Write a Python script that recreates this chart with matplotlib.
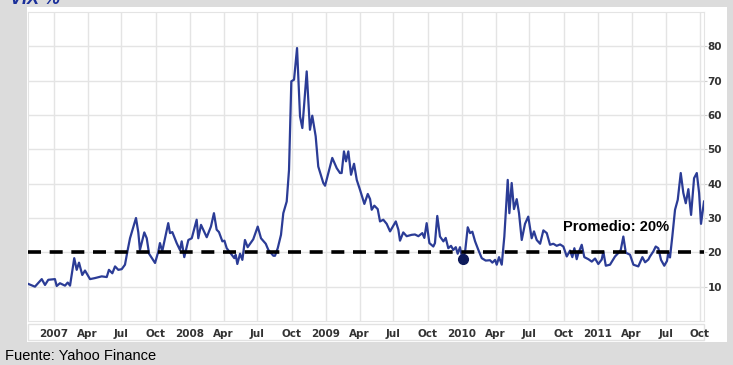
import matplotlib
matplotlib.use("Agg")
import matplotlib.pyplot as plt
from matplotlib.patches import Rectangle

# weekly-ish readings, time as decimal year
years = [2006.811, 2006.860, 2006.910, 2006.934, 2006.958, 2007.007, 2007.020, 2007.044, 2007.081, 2007.101,
         2007.118, 2007.149, 2007.167, 2007.184, 2007.208, 2007.228, 2007.265, 2007.301, 2007.351, 2007.388,
         2007.404, 2007.429, 2007.449, 2007.473, 2007.498, 2007.522, 2007.542, 2007.559, 2007.603, 2007.620,
         2007.632, 2007.664, 2007.682, 2007.699, 2007.743, 2007.767, 2007.779, 2007.796, 2007.840, 2007.853,
         2007.870, 2007.902, 2007.926, 2007.939, 2007.958, 2007.988, 2008.013, 2008.049, 2008.061, 2008.081,
         2008.123, 2008.154, 2008.176, 2008.196, 2008.213, 2008.238, 2008.253, 2008.270, 2008.307, 2008.326,
         2008.336, 2008.348, 2008.368, 2008.385, 2008.404, 2008.424, 2008.465, 2008.498, 2008.522, 2008.557,
         2008.576, 2008.613, 2008.625, 2008.645, 2008.669, 2008.686, 2008.711, 2008.728, 2008.745, 2008.765,
         2008.787, 2008.809, 2008.826, 2008.858, 2008.882, 2008.899, 2008.924, 2008.943, 2008.980, 2008.993,
         2009.017, 2009.046, 2009.079, 2009.103, 2009.115, 2009.132, 2009.147, 2009.164, 2009.184, 2009.206,
         2009.226, 2009.250, 2009.282, 2009.307, 2009.324, 2009.336, 2009.355, 2009.380, 2009.397, 2009.421,
         2009.446, 2009.471, 2009.513, 2009.532, 2009.544, 2009.568, 2009.593, 2009.630, 2009.654, 2009.679,
         2009.708, 2009.723, 2009.740, 2009.760, 2009.789, 2009.801, 2009.818, 2009.838, 2009.863, 2009.880,
         2009.899, 2009.919, 2009.936, 2009.954, 2009.968, 2009.985, 2009.998, 2010.005, 2010.022, 2010.042,
         2010.059, 2010.076, 2010.096, 2010.120, 2010.145, 2010.174, 2010.206, 2010.223, 2010.243, 2010.255,
         2010.272, 2010.292, 2010.311, 2010.336, 2010.348, 2010.365, 2010.382, 2010.402, 2010.419, 2010.439,
         2010.463, 2010.487, 2010.512, 2010.529, 2010.549, 2010.574, 2010.598, 2010.623, 2010.647, 2010.671,
         2010.696, 2010.721, 2010.745, 2010.770, 2010.794, 2010.811, 2010.826, 2010.843, 2010.855, 2010.880,
         2010.899, 2010.929, 2010.954, 2010.978, 2011.002, 2011.027, 2011.039, 2011.057, 2011.088, 2011.125,
         2011.149, 2011.167, 2011.186, 2011.204, 2011.235, 2011.260, 2011.296, 2011.326, 2011.346, 2011.370,
         2011.382, 2011.407, 2011.424, 2011.443, 2011.463, 2011.487, 2011.507, 2011.517, 2011.529, 2011.546,
         2011.566, 2011.586, 2011.608, 2011.627, 2011.645, 2011.664, 2011.684, 2011.706, 2011.726, 2011.743,
         2011.757, 2011.779]
vix = [10.8, 10.0, 12.2, 10.5, 12.0, 12.2, 10.2, 11.0, 10.3, 11.2,
       10.3, 18.3, 14.9, 17.0, 13.4, 14.7, 12.2, 12.5, 13.0, 12.8,
       14.9, 13.9, 15.9, 14.9, 15.1, 16.4, 20.7, 24.1, 30.0, 25.8,
       20.7, 25.8, 24.1, 19.6, 16.9, 20.2, 22.7, 20.3, 28.5, 25.6,
       25.9, 22.7, 20.7, 23.2, 18.6, 23.6, 24.1, 29.5, 24.1, 28.0,
       24.4, 27.5, 31.4, 26.6, 25.9, 23.2, 23.4, 21.2, 19.3, 18.3,
       19.3, 16.6, 19.6, 17.8, 23.6, 21.5, 23.8, 27.5, 24.1, 22.5,
       20.7, 19.0, 19.0, 21.2, 25.1, 31.4, 34.8, 44.0, 69.8, 70.3,
       79.5, 59.6, 56.2, 72.7, 55.7, 59.8, 53.8, 45.0, 40.2, 39.4,
       43.1, 47.5, 44.5, 43.1, 43.1, 49.4, 46.5, 49.4, 42.6, 45.8,
       41.1, 38.2, 34.1, 37.0, 35.5, 32.4, 33.6, 32.6, 29.0, 29.5,
       28.3, 26.1, 29.0, 26.6, 23.4, 25.8, 24.7, 25.1, 25.2, 24.7,
       25.6, 24.2, 28.5, 22.7, 21.7, 22.7, 30.6, 24.6, 23.2, 24.2,
       21.2, 21.9, 20.7, 21.5, 19.6, 21.5, 19.0, 18.1, 20.0, 27.3,
       25.6, 26.0, 23.2, 20.7, 18.3, 17.6, 17.7, 17.0, 17.8, 16.4,
       18.6, 16.4, 24.6, 41.1, 31.4, 40.2, 32.6, 35.5, 31.4, 23.6,
       28.3, 30.4, 24.1, 26.1, 23.6, 22.5, 26.4, 25.6, 22.2, 22.5,
       21.9, 22.3, 21.7, 18.8, 20.5, 18.6, 21.2, 18.0, 19.7, 22.2,
       18.6, 18.0, 17.3, 18.2, 16.6, 17.9, 20.2, 16.1, 16.4, 18.8,
       19.8, 20.7, 24.6, 19.9, 19.3, 16.4, 15.9, 18.6, 17.1, 17.9,
       18.8, 20.3, 21.7, 21.2, 17.8, 16.1, 17.5, 19.9, 18.5, 24.6,
       32.4, 35.3, 43.1, 37.3, 34.3, 38.4, 30.9, 41.6, 43.1, 37.3,
       28.3, 34.8]

average = 20
marker_year = 2010.005
marker_value = 18.1

tick_years = [2007, 2008, 2009, 2010, 2011]
quarter_names = ["Apr", "Jul", "Oct"]
quarter_offsets = [0.247, 0.496, 0.748]
y_ticks = [10, 20, 30, 40, 50, 60, 70, 80]

W, H = 733, 365
fig = plt.figure(figsize=(W / 100, H / 100), dpi=100, facecolor="#dcdcdc")

# white panel behind the chart
fig.patches.append(Rectangle((27 / W, 1 - 342 / H), 700 / W, 335 / H, transform=fig.transFigure,
                             facecolor="white", edgecolor="none", zorder=-2))
# label strip under the plot
fig.patches.append(Rectangle((28 / W, 1 - 340 / H), 676 / W, 16 / H, transform=fig.transFigure,
                             facecolor="white", edgecolor="#e2e2e2", lw=1, zorder=-1))

ax = fig.add_axes([28 / W, 1 - 321 / H, 676 / W, 309 / H])
ax.set_zorder(2)
ax.set_facecolor("white")

ax.plot(years, vix, color="#2b3c96", lw=1.6, zorder=3)
ax.axhline(average, color="black", lw=2.6, dashes=(3.6, 2.4), zorder=4)
ax.plot([marker_year], [marker_value], "o", color="#0d1a5a", ms=7, zorder=5)
ax.text(2010.74, 27.3, f"Promedio: {average}%", fontsize=10.5, fontweight="bold",
        family="Liberation Sans", color="black", va="center", zorder=6)

ax.set_xlim(2006.809, 2011.779)
ax.set_ylim(0, 90)

xt, xl = [], []
for y in tick_years:
    xt.append(y)
    xl.append(str(y))
    for off, name in zip(quarter_offsets, quarter_names):
        xt.append(y + off)
        xl.append(name)
ax.set_xticks(xt)
ax.set_xticklabels(xl)
ax.set_yticks(y_ticks)

ax.grid(True, color="#e4e4e4", lw=1)
ax.set_axisbelow(True)
for s in ax.spines.values():
    s.set_color("#e4e4e4")

ax.yaxis.tick_right()
ax.tick_params(axis="y", length=2, color="#cccccc", pad=0.5, labelsize=7.5, labelcolor="#333333")
ax.tick_params(axis="x", length=0, pad=6, labelsize=7.5, labelcolor="#333333")
for lab in ax.get_xticklabels() + ax.get_yticklabels():
    lab.set_fontweight("bold")
    lab.set_family(["Liberation Sans Narrow", "DejaVu Sans"])

fig.text(5 / W, 1 - 356 / H, "Fuente: Yahoo Finance", fontsize=10.5, family="Liberation Sans",
         color="black", va="center", ha="left")
fig.text(10 / W, 1 + 9 / H, "VIX %", fontsize=13, style="italic", fontweight="bold",
         family="Liberation Sans", color="#1a2f9a", va="top", ha="left")

fig.savefig("out.png", dpi=100, facecolor=fig.get_facecolor())
